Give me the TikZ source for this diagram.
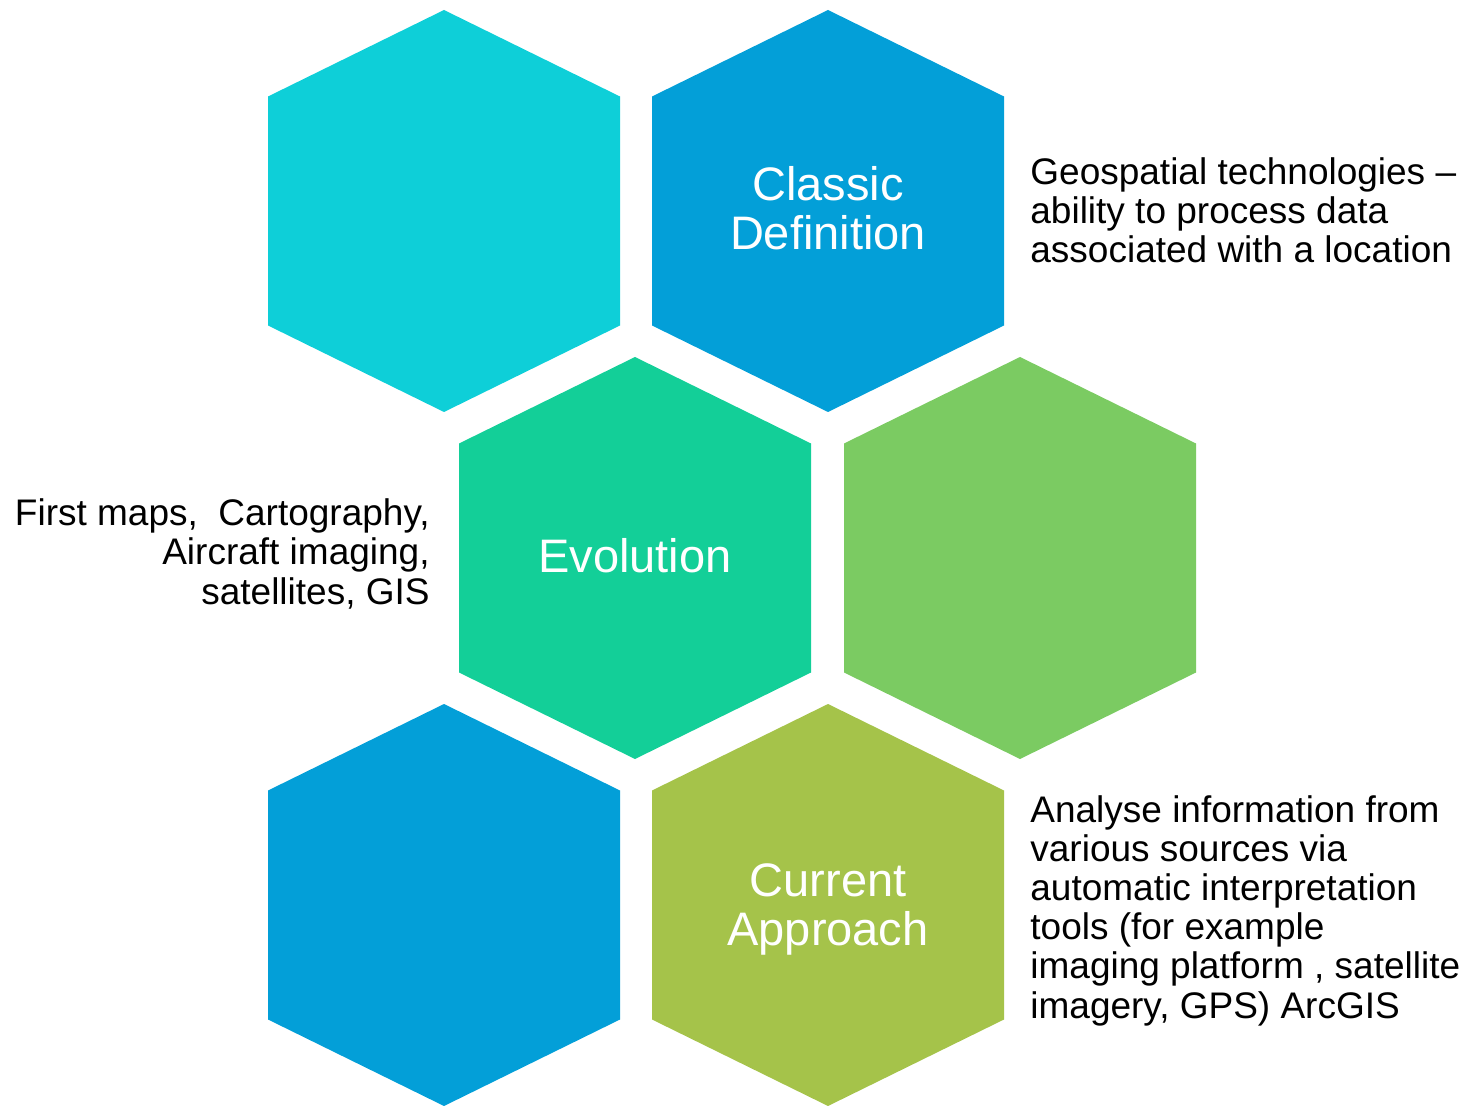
\documentclass[tikz,border=0pt]{standalone}
\usepackage{fontspec}
\setmainfont{Liberation Sans}

\definecolor{hexcyan}{HTML}{0ECFD8}
\definecolor{hexblue}{HTML}{039FD8}
\definecolor{hexteal}{HTML}{13CF98}
\definecolor{hexgreen}{HTML}{7BCB62}
\definecolor{hexolive}{HTML}{A5C34A}

\tikzset{
  hexlabel/.style={text=white, align=center, inner sep=0pt, font=\fontsize{23.5}{24.5}\selectfont},
  sidetext/.style={text=black, inner sep=0pt, font=\fontsize{18.5}{19.6}\selectfont},
}

% stretched hexagon around a centre
\newcommand{\hexcell}[2]{\fill[#2] (#1) ++(0,-201) -- ++(176,86.5) -- ++(0,229) -- ++(-176,86.5) -- ++(-176,-86.5) -- ++(0,-229) -- cycle;}

\begin{document}
\begin{tikzpicture}[x=0.5pt, y=-0.5pt]
    \useasboundingbox (0,0) rectangle (1466,1106);

    % Hexagon centres
    \coordinate (hex00) at (444,211);
    \coordinate (hex01) at (828,211);
    \coordinate (hex10) at (635,558);
    \coordinate (hex11) at (1020,558);
    \coordinate (hex20) at (444,905);
    \coordinate (hex21) at (828,905);

    % Hexagons
    \hexcell{hex00}{hexcyan}
    \hexcell{hex01}{hexblue}
    \hexcell{hex10}{hexteal}
    \hexcell{hex11}{hexgreen}
    \hexcell{hex20}{hexblue}
    \hexcell{hex21}{hexolive}

    % Labels (base = last line)
    \node[hexlabel, anchor=base] (classic) at (828,250) {Classic\\Definition};
    \node[hexlabel, anchor=base] (evolution) at (635,572) {Evolution};
    \node[hexlabel, anchor=base] (current) at (828,945) {Current\\Approach};

    % Side texts
    \node[sidetext, align=left, anchor=base west] (classicnote) at (1030,263)
        {Geospatial technologies –\\ability to process data\\associated with a location};
    \node[sidetext, align=right, anchor=base east] (evolutionnote) at (430,604)
        {First maps, \ Cartography,\\Aircraft imaging,\\satellites, GIS};
    \node[sidetext, align=left, anchor=base west] (currentnote) at (1030,1018)
        {Analyse information from\\various sources via\\automatic interpretation\\tools (for example\\imaging platform , satellite\\imagery, GPS) ArcGIS};

\end{tikzpicture}
\end{document}
